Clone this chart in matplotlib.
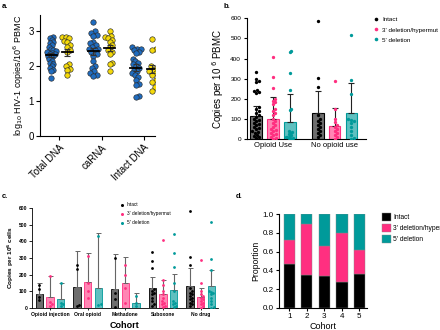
import numpy as np
import matplotlib
matplotlib.use("Agg")
import matplotlib.pyplot as plt
from matplotlib.lines import Line2D

plt.rcParams['font.family'] = ['Liberation Sans', 'DejaVu Sans']

# ---------------- data ----------------
# panel a
a_cats = ["Total DNA", "caRNA", "Intact DNA"]
a_blue_total = [2.83, 2.8, 2.75, 2.7, 2.65, 2.6, 2.55, 2.5, 2.45, 2.42, 2.4, 2.38, 2.35, 2.33,
                2.3, 2.28, 2.25, 2.2, 2.15, 2.1, 2.05, 2.0, 1.95, 1.9, 1.85, 1.67]
a_yel_total = [2.83, 2.83, 2.8, 2.72, 2.7, 2.6, 2.55, 2.45, 2.4, 2.05, 2.0, 1.92, 1.88, 1.75]
a_blue_rna = [3.25, 3.0, 2.95, 2.9, 2.85, 2.7, 2.65, 2.6, 2.55, 2.5, 2.48, 2.45, 2.4, 2.35,
              2.3, 2.15, 2.0, 1.95, 1.85, 1.8, 1.75, 1.72]
a_yel_rna = [3.0, 2.85, 2.83, 2.8, 2.75, 2.7, 2.6, 2.55, 2.45, 2.4, 2.35, 2.1, 2.05, 1.85]
a_blue_intact = [2.55, 2.5, 2.48, 2.45, 2.4, 2.38, 2.2, 2.15, 2.1, 2.05, 2.0, 1.95, 1.9, 1.85,
                 1.8, 1.75, 1.7, 1.6, 1.5, 1.45, 1.15, 1.12]
a_yel_intact = [2.78, 2.5, 2.45, 2.0, 1.95, 1.9, 1.85, 1.8, 1.75, 1.6, 1.55, 1.4, 1.3]

# panel b
b_groups = ["Opioid Use", "No opioid use"]
b_series = ["Intact", "3' deletion/hypermut", "5' deletion"]
b_means = [[117, 103, 87], [131, 67, 129]]
b_sd = [[46, 109, 138], [110, 86, 149]]
b_points = [
    [[333, 300, 290, 285, 245, 240, 235, 230, 160, 150, 140, 130, 120, 110, 100, 95, 90, 80, 75,
      70, 60, 55, 50, 40, 35, 30, 20, 15, 10, 5],
     [410, 310, 255, 200, 190, 185, 175, 150, 140, 130, 120, 100, 90, 80, 70, 60, 50, 45, 40,
      30, 25, 20, 10, 5, 0],
     [440, 435, 330, 245, 150, 145, 40, 35, 30, 25, 20, 15, 12, 10, 8, 5, 3, 0]],
    [[585, 305, 260, 120, 100, 90, 80, 70, 60, 50, 40, 30, 20, 10],
     [290, 150, 100, 85, 70, 60, 50, 40, 30, 20, 10, 0],
     [515, 295, 225, 100, 95, 90, 80, 60, 40, 20, 5, 0]],
]

# panel c
c_groups = ["Opioid injection", "Oral opioid", "Methadone", "Suboxone", "No drug"]
c_means = [[80, 127, 111, 117, 131],
           [62, 155, 151, 80, 66],
           [52, 117, 28, 109, 131]]
c_sd = [[71, 215, 211, 70, 110],
        [129, 173, 155, 87, 55],
        [99, 336, 63, 96, 97]]
c_points = [
    [[140, 110, 65, 45], [255, 235, 15, 10], [300, 90, 50, 5],
     [335, 280, 240, 110, 100, 90, 80, 60, 40, 20, 10],
     [585, 305, 260, 120, 100, 90, 80, 70, 60, 50, 40, 30, 20, 10]],
    [[190, 35, 20, 10], [310, 150, 100, 60], [255, 200, 120, 30],
     [410, 170, 140, 100, 80, 60, 40, 30, 20, 10, 5],
     [290, 150, 100, 85, 70, 60, 50, 40, 30, 20, 10, 0]],
    [[150, 30, 20, 10], [435, 20, 15], [70, 30, 10],
     [445, 330, 245, 150, 100, 40, 30, 20, 10, 5],
     [515, 295, 225, 100, 95, 90, 80, 60, 40, 20, 5, 0]],
]

# panel d
d_cohorts = ["1", "2", "3", "4", "5"]
d_intact = [0.47, 0.35, 0.34, 0.27, 0.36]
d_del3 = [0.26, 0.55, 0.32, 0.53, 0.26]
d_del5 = [0.27, 0.10, 0.34, 0.20, 0.38]
d_labels = ["Intact", "3' deletion/hyper", "5' deletion"]

# ---------------- helpers ----------------
W, H = 440, 330
fig = plt.figure(figsize=(W / 100, H / 100), dpi=100)


def rect(l, t, r, b):
    return [l / W, 1 - b / H, (r - l) / W, (b - t) / H]


def swarm(values, px_per_unit, d, maxw):
    ys = np.asarray(values, float) * px_per_unit
    order = np.argsort(ys)
    placed = []
    xs = np.zeros(len(ys))
    for i in order:
        y = ys[i]
        nb = [(px, py) for px, py in placed if abs(py - y) < d]
        cands = [0.0]
        for px, py in nb:
            dx = np.sqrt(d * d - (py - y) ** 2)
            cands += [px + dx, px - dx]
        cands.sort(key=abs)
        for c in cands:
            if all((c - px) ** 2 + (y - py) ** 2 >= d * d - 1e-6 for px, py in nb):
                xs[i] = c
                break
        placed.append((xs[i], y))
    m = np.max(np.abs(xs)) if len(xs) else 0
    if m > maxw:
        xs = xs * (maxw / m)
    return xs


def style(ax, lw=0.8):
    for s in ['top', 'right']:
        ax.spines[s].set_visible(False)
    for s in ['left', 'bottom']:
        ax.spines[s].set_linewidth(lw)


PINK = "#ff2f80"
TEAL = "#009a9a"
BLUE = "#1f6cc0"
YEL = "#f5d90a"
bar_fill = ["#6e6e6e", "#ff86b4", "#5fc0c0"]
pt_col = ["#000000", PINK, TEAL]

# ---------------- panel a ----------------
axa = fig.add_axes(rect(40, 15.25, 155, 136))
style(axa)
a_unit_px = 42.5
a_y_px = 35.0
blue_sets = [a_blue_total, a_blue_rna, a_blue_intact]
yel_sets = [a_yel_total, a_yel_rna, a_yel_intact]
for i in range(3):
    for vals, off, col in [(blue_sets[i], -0.19, BLUE), (yel_sets[i], 0.19, YEL)]:
        xo = swarm(vals, a_y_px, 4.5, 5.0) / a_unit_px
        axa.plot(i + off + xo, vals, 'o', ms=3.9, mfc=col, mec="#2a2a2a", mew=0.45, zorder=3)
        m = np.mean(vals)
        sem = np.std(vals, ddof=1) / np.sqrt(len(vals))
        axa.errorbar(i + off, m, yerr=sem, fmt='none', ecolor="#333333", elinewidth=0.8,
                     capsize=2, capthick=0.8, zorder=4)
        axa.plot([i + off - 0.13, i + off + 0.13], [m, m], color='black', lw=1.3, zorder=5)
axa.set_xlim(-0.45, 2.26)
axa.set_ylim(0, 3.45)
axa.set_yticks([0, 1, 2, 3])
axa.set_xticks(range(3))
axa.set_xticklabels(a_cats, rotation=45, ha='right', va='top', rotation_mode='anchor')
axa.tick_params(labelsize=7, width=0.8, length=3, pad=1.5)
axa.set_ylabel("log$_{10}$ HIV-1 copies/10$^6$ PBMC", fontsize=6.5, labelpad=2)

# ---------------- panel b ----------------
axb = fig.add_axes(rect(246.7, 18.3, 366, 139.3))
style(axb)
b_unit_px = 61.0
b_y_px = 121.0 / 600
off_b = 0.274
bw_b = 0.19
for g in range(2):
    for s in range(3):
        x = g + (s - 1) * off_b
        axb.bar(x, b_means[g][s], width=bw_b, color=bar_fill[s], edgecolor=pt_col[s],
                linewidth=0.8, zorder=2)
        axb.errorbar(x, b_means[g][s], yerr=[[0], [b_sd[g][s]]], fmt='none', ecolor="#222222",
                     elinewidth=0.8, capsize=2.5, capthick=0.8, zorder=3)
        vals = b_points[g][s]
        xo = swarm(vals, b_y_px, 3.0, 4.2) / b_unit_px
        axb.plot(x + xo, vals, 'o', ms=2.4, color=pt_col[s], mew=0, zorder=4)
axb.set_xlim(-0.43, 1.51)
axb.set_ylim(0, 600)
axb.set_yticks(range(0, 601, 100))
axb.set_xticks([0, 1])
axb.set_xticklabels(b_groups)
axb.tick_params(axis='y', labelsize=4.6, width=0.8, length=2.5, pad=1.5)
axb.tick_params(axis='x', labelsize=5.5, width=0, length=0, pad=2)
axb.set_ylabel("Copies per 10$^{\\ 6}$ PBMC", fontsize=7, labelpad=3)
handles_b = [Line2D([], [], marker='o', ls='none', ms=2.6, color=c, mew=0) for c in pt_col]
axb.legend(handles_b, b_series, loc='upper left', bbox_to_anchor=(1.06, 1.01), frameon=False,
           fontsize=4.5, handletextpad=0.4, labelspacing=0.75, handlelength=1.0,
           borderaxespad=0, borderpad=0)

# ---------------- panel c ----------------
axc = fig.add_axes(rect(31.7, 208.3, 218, 307.7))
style(axc, lw=0.6)
c_unit_px = 37.7
c_y_px = 99.4 / 600
off_c = 0.284
bw_c = 0.19
for g in range(5):
    for s in range(3):
        x = g + (s - 1) * off_c
        axc.bar(x, c_means[s][g], width=bw_c, color=bar_fill[s], edgecolor=pt_col[s],
                linewidth=0.6, zorder=2)
        axc.errorbar(x, c_means[s][g], yerr=[[0], [c_sd[s][g]]], fmt='none', ecolor="#666666",
                     elinewidth=0.8, capsize=1.8, capthick=0.7, zorder=3)
        vals = c_points[s][g]
        xo = swarm(vals, c_y_px, 2.6, 2.8) / c_unit_px
        axc.plot(x + xo, vals, 'o', ms=2.0, color=pt_col[s], mew=0, zorder=4)
axc.set_xlim(-0.485, 4.46)
axc.set_ylim(0, 600)
axc.set_yticks(range(0, 601, 100))
axc.set_xticks(range(5))
axc.set_xticklabels(c_groups)
axc.tick_params(axis='y', labelsize=3.6, width=0.6, length=2, pad=1)
axc.tick_params(axis='x', labelsize=3.6, width=0.6, length=1.5, pad=1.5)
for lab in axc.get_yticklabels() + axc.get_xticklabels():
    lab.set_fontweight('bold')
axc.set_ylabel("Copies per 10$^{\\mathbf{6}}$ cells", fontsize=4.6, fontweight='bold', labelpad=2)
axc.set_xlabel("Cohort", fontsize=6.5, fontweight='bold', labelpad=3)
handles_c = [Line2D([], [], marker='o', ls='none', ms=2.2, color=c, mew=0) for c in pt_col]
axc.legend(handles_c, b_series, loc='upper left', bbox_to_anchor=(0.47, 1.06), frameon=False,
           fontsize=3.4, handletextpad=0.6, labelspacing=0.85, handlelength=1.0,
           borderaxespad=0, borderpad=0)

# ---------------- panel d ----------------
axd = fig.add_axes(rect(279.3, 214.3, 366.7, 307.7))
style(axd)
xd = np.arange(1, 6)
bw_d = 0.65
b1 = np.array(d_intact)
b2 = np.array(d_del3)
b3 = np.array(d_del5)
axd.bar(xd, b1, width=bw_d, color='black', edgecolor='#888888', linewidth=0.3, label=d_labels[0])
axd.bar(xd, b2, width=bw_d, bottom=b1, color=PINK, edgecolor='#888888', linewidth=0.3,
        label=d_labels[1])
axd.bar(xd, b3, width=bw_d, bottom=b1 + b2, color=TEAL, edgecolor='#888888', linewidth=0.3,
        label=d_labels[2])
axd.set_xlim(0.43, 5.42)
axd.set_ylim(0, 1.0)
axd.set_yticks(np.arange(0, 1.01, 0.2))
axd.set_yticklabels([f"{v:.1f}" for v in np.arange(0, 1.01, 0.2)])
axd.set_xticks(xd)
axd.set_xticklabels(d_cohorts)
axd.tick_params(labelsize=5.8, width=0.8, length=2.5, pad=1.5)
axd.set_ylabel("Proportion", fontsize=6.2, labelpad=2)
axd.set_xlabel("Cohort", fontsize=6.5, labelpad=1)
axd.legend(loc='upper left', bbox_to_anchor=(1.175, 1.01), frameon=False, fontsize=4.8,
           handlelength=1.35, handleheight=1.35, handletextpad=0.3, labelspacing=0.45,
           borderaxespad=0, borderpad=0)

# panel letters
for txt, x, y in [("a.", 2, 6), ("b.", 224, 6), ("c.", 2, 197), ("d.", 236, 197)]:
    fig.text(x / W, 1 - y / H, txt, fontsize=5.5, fontweight='bold', ha='left', va='center')

fig.savefig("out.png", dpi=100)
